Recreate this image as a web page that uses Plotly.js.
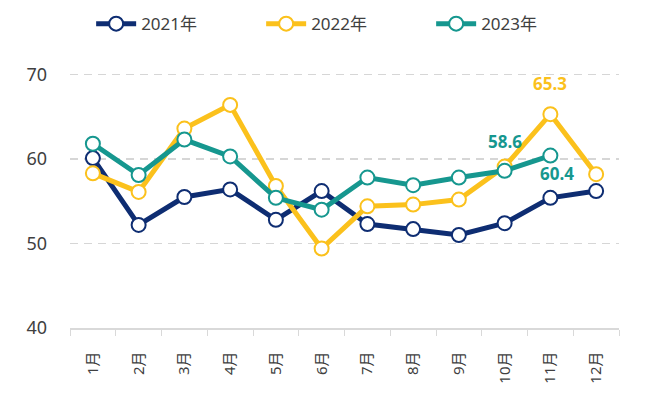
<!DOCTYPE html>
<html>
<head>
<meta charset="utf-8">
<script src="https://cdn.plot.ly/plotly-3.0.1.min.js"></script>
<style>html,body{margin:0;padding:0;background:#fff;}#chart{width:658px;height:396px;}</style>
</head>
<body>
<div id="chart"></div>
<script>
const months = ["1月","2月","3月","4月","5月","6月","7月","8月","9月","10月","11月","12月"];
const seriesNames = ["2021年","2022年","2023年"];
const y2021 = [60.1, 52.2, 55.5, 56.4, 52.8, 56.2, 52.3, 51.7, 51.0, 52.4, 55.4, 56.2];
const y2022 = [58.3, 56.1, 63.6, 66.4, 56.8, 49.4, 54.4, 54.6, 55.2, 59.1, 65.3, 58.2];
const y2023 = [61.8, 58.1, 62.3, 60.3, 55.4, 54.0, 57.8, 56.9, 57.8, 58.6, 60.4];
const yTicks = [40, 50, 60, 70];

const colors = ["#0E2D72", "#FBC11C", "#16978F"];
const font = "'Noto Sans', 'Noto Sans CJK SC', sans-serif";

function mk(y, i) {
  return {
    x: months.slice(0, y.length), y: y, name: seriesNames[i], type: "scatter", mode: "lines+markers",
    line: {color: colors[i], width: 5},
    marker: {symbol: "circle", size: 14, color: "#ffffff", line: {color: colors[i], width: 2}},
    cliponaxis: false
  };
}
const traces = [mk(y2021, 0), mk(y2022, 1), mk(y2023, 2)];

const labels = [
  {arr: y2022, idx: 10, c: 1, xs: 0, ys: 31},
  {arr: y2023, idx: 9, c: 2, xs: 0, ys: 29},
  {arr: y2023, idx: 10, c: 2, xs: 7, ys: -18}
];
const annotations = labels.map(l => ({
  x: months[l.idx], y: l.arr[l.idx], xref: "x", yref: "y",
  text: l.arr[l.idx].toFixed(1), showarrow: false, xshift: l.xs, yshift: l.ys,
  font: {family: font, size: 17, color: colors[l.c], weight: "bold"}
}));

const layout = {
  width: 658, height: 396,
  margin: {l: 70, r: 39, t: 66, b: 68, autoexpand: false},
  paper_bgcolor: "#fff", plot_bgcolor: "#fff",
  font: {family: font, color: "#404040"},
  showlegend: true,
  legend: {orientation: "h", x: 0.503, xanchor: "center", y: 1.16, yanchor: "middle",
    font: {size: 17, color: "#404040"}, itemwidth: 40, entrywidth: 115, tracegroupgap: 0},
  xaxis: {
    type: "category", categoryorder: "array", categoryarray: months,
    showgrid: false, showline: true, linecolor: "#d9d9d9", linewidth: 1.5,
    ticks: "outside", tickson: "boundaries", ticklen: 6, tickcolor: "#d9d9d9",
    tickangle: -90, tickfont: {size: 15, color: "#404040"}, ticklabelstandoff: 16,
    range: [-0.5, 11.5], zeroline: false
  },
  yaxis: {
    range: [40, 71], tickvals: yTicks, showgrid: true, gridcolor: "#d6d6d6", griddash: "8px,6px", gridwidth: 1.5,
    showline: false, zeroline: false, ticks: "", tickfont: {size: 18, color: "#404040"}, ticklabelstandoff: 22
  },
  annotations: annotations
};

Plotly.newPlot("chart", traces, layout, {displayModeBar: false, staticPlot: true});
</script>
</body>
</html>
